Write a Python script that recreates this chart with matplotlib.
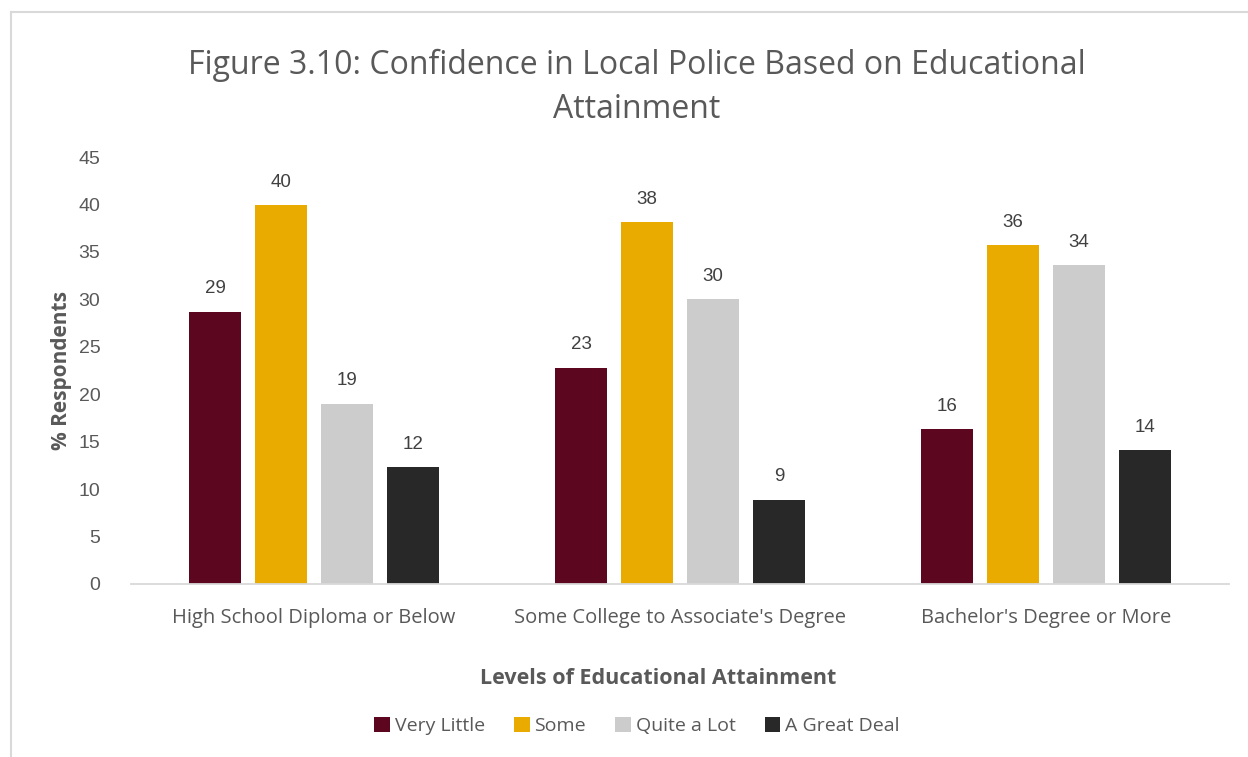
import matplotlib.pyplot as plt
import numpy as np
from matplotlib.lines import Line2D
from matplotlib.patches import Patch

TEXT = "#595959"
NUM = "#404040"

categories = ["High School Diploma or Below", "Some College to Associate's Degree", "Bachelor's Degree or More"]
series = ["Very Little", "Some", "Quite a Lot", "A Great Deal"]
colors = ["#5c0620", "#eaab00", "#cccccc", "#282828"]

very_little = [28.7, 22.8, 16.3]
some = [39.9, 38.1, 35.7]
quite_a_lot = [19.0, 30.0, 33.6]
great_deal = [12.3, 8.9, 14.1]
values = [very_little, some, quite_a_lot, great_deal]

fig = plt.figure(figsize=(12.48, 7.57), dpi=100)
W, H = 1248, 757
ax = fig.add_axes([131 / W, 1 - 584 / H, (1229 - 131) / W, (584 - 157) / H])

x = np.arange(len(categories))
step = 66 / 366
width = 52 / 366
for i, (name, vals, c) in enumerate(zip(series, values, colors)):
    pos = x + (i - 1.5) * step
    bars = ax.bar(pos, vals, width=width, color=c, label=name, zorder=2)
    for b, v in zip(bars, vals):
        ax.text(b.get_x() + b.get_width() / 2, v + 1.5, f"{v:.0f}",
                ha="center", va="bottom", fontsize=13.5, color=NUM,
                family="Liberation Sans")

ax.set_xlim(-0.5, 2.5)
ax.set_ylim(0, 45)
ax.set_yticks(range(0, 46, 5))
ax.set_xticks(x)
ax.set_xticklabels(categories, fontsize=14.5, color=TEXT, family="Open Sans")
ax.tick_params(axis="x", length=0, pad=17)
ax.tick_params(axis="y", length=0, pad=22, labelsize=14, labelcolor=TEXT)
for lbl in ax.get_yticklabels():
    lbl.set_family("Liberation Sans")
    lbl.set_horizontalalignment("right")
for s in ["top", "right", "left"]:
    ax.spines[s].set_visible(False)
ax.spines["bottom"].set_color("#d9d9d9")
ax.spines["bottom"].set_linewidth(1.3)

fig.text(62 / W, 1 - 370 / H, "% Respondents", rotation=90, ha="center", va="center",
         fontsize=15, fontweight="bold", color=TEXT, family="Open Sans")
fig.text(658 / W, 1 - 679 / H, "Levels of Educational Attainment", ha="center", va="center",
         fontsize=15.5, fontweight="bold", color=TEXT, family="Open Sans")
fig.text(637 / W, 1 - 65 / H, "Figure 3.10: Confidence in Local Police Based on Educational",
         ha="center", va="center", fontsize=23, color=TEXT, family="Open Sans")
fig.text(637 / W, 1 - 109 / H, "Attainment", ha="center", va="center",
         fontsize=23, color=TEXT, family="Open Sans")

handles = [Patch(facecolor=c, label=n) for n, c in zip(series, colors)]
fig.legend(handles=handles, loc="center", bbox_to_anchor=(637 / W, 1 - 726 / H), ncol=4,
           frameon=False, handlelength=0.8, handleheight=0.8, handletextpad=0.25,
           columnspacing=1.5, prop={"family": "Open Sans", "size": 14}, labelcolor=TEXT)

# chart area border
fig.add_artist(Line2D([11 / W, 11 / W], [0, 1 - 12 / H], color="#d9d9d9", lw=1.5))
fig.add_artist(Line2D([11 / W, 1], [1 - 12 / H, 1 - 12 / H], color="#d9d9d9", lw=1.5))

fig.savefig("out.png", dpi=100, facecolor="white")
